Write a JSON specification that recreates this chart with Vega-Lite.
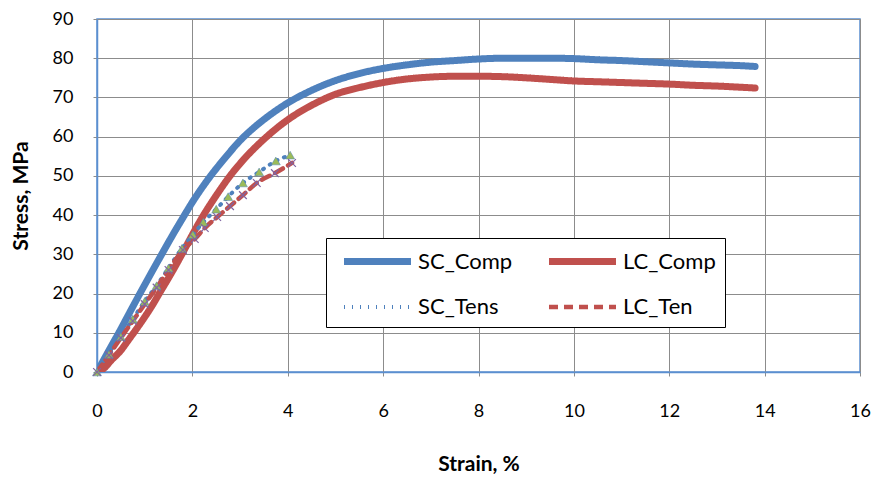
{
  "$schema": "https://vega.github.io/schema/vega-lite/v6.json",
  "width": 763,
  "height": 353,
  "autosize": "none",
  "padding": {"left": 97, "top": 19, "right": 15, "bottom": 107},
  "background": "white",
  "config": {
    "font": "Lato",
    "view": {"stroke": "#5B8FD0", "strokeWidth": 1.5},
    "axis": {
      "labelFont": "Lato", "labelFontSize": 18, "labelColor": "#000",
      "titleFont": "Lato", "titleFontSize": 21, "titleFontWeight": "bold", "titleColor": "#000",
      "gridColor": "#8C8C8C", "gridWidth": 1,
      "domainColor": "#5B8FD0", "domainWidth": 1.5,
      "tickColor": "#8C8C8C", "tickSize": 4, "labelFlush": false
    },
    "legend": {
      "orient": "none", "legendX": 229, "legendY": 219,
      "columns": 2, "symbolType": "M-3,0L3,0", "symbolSize": 498.8, "symbolOffset": 28,
      "labelFont": "Lato", "labelFontSize": 22, "labelColor": "#000",
      "labelOffset": 25.5, "padding": 8.5, "rowPadding": 18, "columnPadding": 22,
      "strokeColor": "#000", "fillColor": "white", "labelLimit": 300
    }
  },
  "data": {
    "values": [
      {"series": "SC_Comp", "strain": 0, "stress": 0},
      {"series": "SC_Comp", "strain": 0.25, "stress": 5.5},
      {"series": "SC_Comp", "strain": 0.48, "stress": 10.5},
      {"series": "SC_Comp", "strain": 0.7, "stress": 15.5},
      {"series": "SC_Comp", "strain": 0.9, "stress": 20},
      {"series": "SC_Comp", "strain": 1.14, "stress": 25.3},
      {"series": "SC_Comp", "strain": 1.38, "stress": 30.5},
      {"series": "SC_Comp", "strain": 1.6, "stress": 35.2},
      {"series": "SC_Comp", "strain": 1.8, "stress": 39.3},
      {"series": "SC_Comp", "strain": 2.0, "stress": 43.3},
      {"series": "SC_Comp", "strain": 2.37, "stress": 49.8},
      {"series": "SC_Comp", "strain": 2.7, "stress": 54.8},
      {"series": "SC_Comp", "strain": 3.0, "stress": 59.0},
      {"series": "SC_Comp", "strain": 3.3, "stress": 62.4},
      {"series": "SC_Comp", "strain": 3.6, "stress": 65.3},
      {"series": "SC_Comp", "strain": 4.0, "stress": 68.6},
      {"series": "SC_Comp", "strain": 4.5, "stress": 71.8},
      {"series": "SC_Comp", "strain": 5.0, "stress": 74.3},
      {"series": "SC_Comp", "strain": 5.5, "stress": 76.1},
      {"series": "SC_Comp", "strain": 6.0, "stress": 77.4},
      {"series": "SC_Comp", "strain": 6.5, "stress": 78.3},
      {"series": "SC_Comp", "strain": 7.0, "stress": 79.0},
      {"series": "SC_Comp", "strain": 7.5, "stress": 79.4},
      {"series": "SC_Comp", "strain": 8.0, "stress": 79.8},
      {"series": "SC_Comp", "strain": 8.5, "stress": 80.0},
      {"series": "SC_Comp", "strain": 9.0, "stress": 80.0},
      {"series": "SC_Comp", "strain": 9.5, "stress": 80.0},
      {"series": "SC_Comp", "strain": 10.0, "stress": 79.9},
      {"series": "SC_Comp", "strain": 10.5, "stress": 79.6},
      {"series": "SC_Comp", "strain": 11.0, "stress": 79.4},
      {"series": "SC_Comp", "strain": 11.5, "stress": 79.1},
      {"series": "SC_Comp", "strain": 12.0, "stress": 78.8},
      {"series": "SC_Comp", "strain": 12.5, "stress": 78.5},
      {"series": "SC_Comp", "strain": 13.0, "stress": 78.3},
      {"series": "SC_Comp", "strain": 13.5, "stress": 78.1},
      {"series": "SC_Comp", "strain": 13.8, "stress": 77.9},
      {"series": "LC_Comp", "strain": 0, "stress": 0},
      {"series": "LC_Comp", "strain": 0.15, "stress": 1},
      {"series": "LC_Comp", "strain": 0.3, "stress": 3},
      {"series": "LC_Comp", "strain": 0.5, "stress": 5.5},
      {"series": "LC_Comp", "strain": 0.65, "stress": 8},
      {"series": "LC_Comp", "strain": 0.8, "stress": 10.5},
      {"series": "LC_Comp", "strain": 1.0, "stress": 14},
      {"series": "LC_Comp", "strain": 1.15, "stress": 16.8},
      {"series": "LC_Comp", "strain": 1.32, "stress": 20.3},
      {"series": "LC_Comp", "strain": 1.55, "stress": 25},
      {"series": "LC_Comp", "strain": 1.78, "stress": 30},
      {"series": "LC_Comp", "strain": 2.0, "stress": 35},
      {"series": "LC_Comp", "strain": 2.2, "stress": 39.3},
      {"series": "LC_Comp", "strain": 2.5, "stress": 45},
      {"series": "LC_Comp", "strain": 2.79, "stress": 50},
      {"series": "LC_Comp", "strain": 3.1, "stress": 54.5},
      {"series": "LC_Comp", "strain": 3.56, "stress": 60},
      {"series": "LC_Comp", "strain": 4.0, "stress": 64.3},
      {"series": "LC_Comp", "strain": 4.5, "stress": 68},
      {"series": "LC_Comp", "strain": 5.0, "stress": 70.8},
      {"series": "LC_Comp", "strain": 5.5, "stress": 72.5},
      {"series": "LC_Comp", "strain": 6.0, "stress": 73.8},
      {"series": "LC_Comp", "strain": 6.5, "stress": 74.7},
      {"series": "LC_Comp", "strain": 7.0, "stress": 75.2},
      {"series": "LC_Comp", "strain": 7.5, "stress": 75.4},
      {"series": "LC_Comp", "strain": 8.0, "stress": 75.4},
      {"series": "LC_Comp", "strain": 8.5, "stress": 75.3},
      {"series": "LC_Comp", "strain": 9.0, "stress": 75.0},
      {"series": "LC_Comp", "strain": 9.5, "stress": 74.6},
      {"series": "LC_Comp", "strain": 10.0, "stress": 74.2},
      {"series": "LC_Comp", "strain": 10.5, "stress": 74.0},
      {"series": "LC_Comp", "strain": 11.0, "stress": 73.8},
      {"series": "LC_Comp", "strain": 11.5, "stress": 73.6},
      {"series": "LC_Comp", "strain": 12.0, "stress": 73.4},
      {"series": "LC_Comp", "strain": 12.5, "stress": 73.1},
      {"series": "LC_Comp", "strain": 13.0, "stress": 72.9},
      {"series": "LC_Comp", "strain": 13.5, "stress": 72.6},
      {"series": "LC_Comp", "strain": 13.8, "stress": 72.4},
      {"series": "SC_Tens", "strain": 0, "stress": 0},
      {"series": "SC_Tens", "strain": 0.25, "stress": 4.5},
      {"series": "SC_Tens", "strain": 0.5, "stress": 9},
      {"series": "SC_Tens", "strain": 0.75, "stress": 13.5},
      {"series": "SC_Tens", "strain": 1.0, "stress": 18},
      {"series": "SC_Tens", "strain": 1.25, "stress": 22},
      {"series": "SC_Tens", "strain": 1.5, "stress": 26.5},
      {"series": "SC_Tens", "strain": 1.78, "stress": 31.5},
      {"series": "SC_Tens", "strain": 2.01, "stress": 35},
      {"series": "SC_Tens", "strain": 2.23, "stress": 38.2},
      {"series": "SC_Tens", "strain": 2.5, "stress": 41.5},
      {"series": "SC_Tens", "strain": 2.75, "stress": 44.7},
      {"series": "SC_Tens", "strain": 3.06, "stress": 48.2},
      {"series": "SC_Tens", "strain": 3.4, "stress": 51},
      {"series": "SC_Tens", "strain": 3.75, "stress": 53.8},
      {"series": "SC_Tens", "strain": 4.05, "stress": 55.3},
      {"series": "LC_Ten", "strain": 0, "stress": 0},
      {"series": "LC_Ten", "strain": 0.25, "stress": 4.3},
      {"series": "LC_Ten", "strain": 0.5, "stress": 8.7},
      {"series": "LC_Ten", "strain": 0.75, "stress": 13},
      {"series": "LC_Ten", "strain": 1.0, "stress": 17.3},
      {"series": "LC_Ten", "strain": 1.25, "stress": 21.5},
      {"series": "LC_Ten", "strain": 1.5, "stress": 26},
      {"series": "LC_Ten", "strain": 1.8, "stress": 31.1},
      {"series": "LC_Ten", "strain": 2.05, "stress": 33.9},
      {"series": "LC_Ten", "strain": 2.26, "stress": 36.7},
      {"series": "LC_Ten", "strain": 2.52, "stress": 39.5},
      {"series": "LC_Ten", "strain": 2.79, "stress": 42.3},
      {"series": "LC_Ten", "strain": 3.06, "stress": 45.1},
      {"series": "LC_Ten", "strain": 3.35, "stress": 48.2},
      {"series": "LC_Ten", "strain": 3.73, "stress": 50.7},
      {"series": "LC_Ten", "strain": 4.09, "stress": 53.3}
    ]
  },
  "encoding": {
    "x": {
      "field": "strain", "type": "quantitative",
      "scale": {"domain": [0, 16], "nice": false},
      "axis": {"values": [0, 2, 4, 6, 8, 10, 12, 14, 16], "title": "Strain, %", "labelPadding": 26, "titlePadding": 33}
    },
    "y": {
      "field": "stress", "type": "quantitative",
      "scale": {"domain": [0, 90], "nice": false},
      "axis": {"values": [0, 10, 20, 30, 40, 50, 60, 70, 80, 90], "title": "Stress, MPa", "labelPadding": 20, "titlePadding": 21}
    }
  },
  "layer": [
    {
      "mark": {"type": "line", "interpolate": "monotone", "strokeCap": "round", "strokeJoin": "round", "clip": true},
      "encoding": {
        "color": {
          "field": "series", "type": "nominal",
          "scale": {"domain": ["SC_Comp", "SC_Tens", "LC_Comp", "LC_Ten"], "range": ["#4F81BD", "#4F81BD", "#C0504D", "#C0504D"]},
          "legend": {"title": null}
        },
        "strokeDash": {
          "field": "series", "type": "nominal",
          "scale": {"domain": ["SC_Comp", "SC_Tens", "LC_Comp", "LC_Ten"], "range": [[1, 0], [1, 7], [1, 0], [9, 6]]},
          "legend": {"title": null}
        },
        "strokeWidth": {
          "field": "series", "type": "nominal",
          "scale": {"type": "ordinal", "domain": ["SC_Comp", "SC_Tens", "LC_Comp", "LC_Ten"], "range": [7, 4, 7, 4.5]},
          "legend": {"title": null}
        }
      }
    },
    {
      "transform": [{"filter": "datum.series === 'SC_Tens'"}],
      "mark": {"type": "point", "shape": "triangle-up", "filled": true, "color": "#9BBB59", "stroke": "#4F81BD", "strokeWidth": 0.5, "size": 80, "opacity": 1}
    },
    {
      "transform": [{"filter": "datum.series === 'LC_Ten'"}],
      "mark": {"type": "point", "shape": "M-1,-1L1,1M-1,1L1,-1", "filled": false, "color": "#8064A2", "strokeWidth": 1.2, "size": 60, "opacity": 1}
    }
  ]
}
